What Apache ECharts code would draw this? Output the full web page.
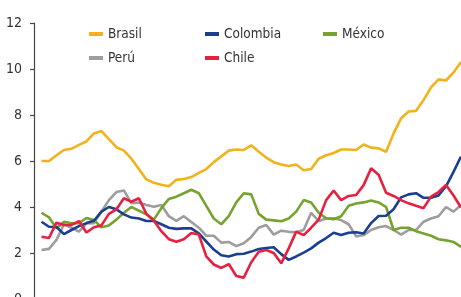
<!DOCTYPE html>
<html>
<head>
<meta charset="utf-8">
<script src="https://cdn.jsdelivr.net/npm/echarts@6/dist/echarts.min.js"></script>
<style>
html, body { margin: 0; padding: 0; background: #fff; }
#chart { width: 461px; height: 297px; }
</style>
</head>
<body>
<div id="chart"></div>
<script>
var yTicks = [0, 2, 4, 6, 8, 10, 12];
// valores mensuales
var brasil = [6.0, 6.0, 6.25, 6.48, 6.53, 6.7, 6.85, 7.2, 7.3, 6.95, 6.6, 6.45, 6.1, 5.65, 5.2, 5.05, 4.97, 4.9, 5.18, 5.22,
	5.3, 5.48, 5.65, 5.95, 6.2, 6.45, 6.5, 6.48, 6.68, 6.4, 6.15, 5.95, 5.85, 5.78, 5.85, 5.6, 5.65, 6.1, 6.25, 6.35,
	6.5, 6.5, 6.48, 6.72, 6.58, 6.55, 6.4, 7.2, 7.85, 8.15, 8.18, 8.65, 9.2, 9.55, 9.5, 9.85, 10.3];
var colombia = [3.36, 3.14, 3.13, 2.82, 3.0, 3.17, 3.3, 3.4, 3.8, 4.0, 3.9, 3.68, 3.54, 3.5, 3.39, 3.39, 3.25, 3.1, 3.05, 3.07,
	3.07, 2.85, 2.5, 2.15, 1.9, 1.85, 1.95, 1.97, 2.06, 2.17, 2.22, 2.25, 1.95, 1.7, 1.85, 2.02, 2.2, 2.45, 2.65, 2.88,
	2.78, 2.88, 2.9, 2.85, 3.3, 3.61, 3.62, 3.9, 4.42, 4.55, 4.6, 4.4, 4.4, 4.5, 4.9, 5.53, 6.19];
var mexico = [3.75, 3.55, 3.07, 3.36, 3.29, 3.3, 3.52, 3.43, 3.12, 3.2, 3.45, 3.75, 4.0, 3.84, 3.68, 3.45, 3.95, 4.35, 4.45, 4.6,
	4.75, 4.6, 4.05, 3.5, 3.25, 3.6, 4.2, 4.6, 4.55, 3.7, 3.45, 3.42, 3.38, 3.5, 3.8, 4.3, 4.2, 3.75, 3.51, 3.47,
	3.6, 4.05, 4.15, 4.2, 4.28, 4.2, 4.0, 3.0, 3.1, 3.1, 2.95, 2.85, 2.75, 2.6, 2.55, 2.48, 2.27];
var peru = [2.13, 2.18, 2.57, 3.25, 3.1, 2.93, 3.29, 3.3, 3.8, 4.3, 4.65, 4.72, 4.16, 4.19, 4.09, 4.01, 4.09, 3.6, 3.4, 3.6,
	3.35, 3.1, 2.75, 2.75, 2.45, 2.48, 2.3, 2.42, 2.7, 3.1, 3.22, 2.8, 2.97, 2.92, 2.9, 3.0, 3.75, 3.38, 3.5, 3.51,
	3.43, 3.25, 2.72, 2.78, 3.0, 3.12, 3.17, 3.0, 2.8, 3.0, 3.0, 3.36, 3.5, 3.6, 4.0, 3.8, 4.09];
var chile = [2.71, 2.65, 3.32, 3.22, 3.22, 3.39, 2.89, 3.12, 3.2, 3.7, 3.9, 4.38, 4.23, 4.38, 3.7, 3.4, 2.95, 2.6, 2.49, 2.6,
	2.87, 2.8, 1.85, 1.5, 1.35, 1.52, 1.0, 0.93, 1.6, 2.05, 2.13, 2.0, 1.55, 2.2, 2.93, 2.78, 3.1, 3.45, 4.3, 4.72,
	4.3, 4.48, 4.52, 4.95, 5.68, 5.4, 4.62, 4.48, 4.3, 4.16, 4.05, 3.95, 4.45, 4.65, 4.96, 4.5, 3.98];

var names = ['Brasil', 'Colombia', 'México', 'Perú', 'Chile'];
var colors = ['#f2b21b', '#1b3f8f', '#77a22e', '#9d9d9d', '#e8203f'];
var values = [brasil, colombia, mexico, peru, chile];

var font = '"Liberation Sans Narrow", "DejaVu Sans Condensed", "Noto Sans", sans-serif';

function toPoints(arr) {
	var out = [];
	for (var i = 0; i < arr.length; i++) {
		out.push([i, arr[i]]);
	}
	return out;
}

// leyenda en dos filas, tres columnas
var legendPos = [[89, 27], [205, 27], [323, 27], [89, 51], [205, 51]];
var legends = [];
for (var k = 0; k < names.length; k++) {
	legends.push({
		left: legendPos[k][0],
		top: legendPos[k][1],
		padding: 0,
		icon: 'rect',
		itemWidth: 14,
		itemHeight: 4,
		textStyle: { fontFamily: font, fontSize: 13.5, color: '#333' },
		data: [names[k]]
	});
}

// orden de dibujo: gris abajo, rojo arriba
var order = [0, 3, 2, 1, 4];
var series = [];
for (var j = 0; j < order.length; j++) {
	var n = order[j];
	series.push({
		name: names[n],
		type: 'line',
		symbol: 'none',
		animation: false,
		itemStyle: { color: colors[n] },
		lineStyle: { color: colors[n], width: 2.6 },
		data: toPoints(values[n])
	});
}

var mycharts = echarts.init(document.getElementById('chart'), null, { renderer: 'canvas' });
mycharts.setOption({
	animation: false,
	legend: legends,
	grid: { left: 34, right: 0, top: 23, bottom: -2, outerBoundsMode: 'none', containLabel: false },
	xAxis: {
		type: 'value',
		min: -1,
		max: 56,
		show: false
	},
	yAxis: {
		type: 'value',
		min: yTicks[0],
		max: yTicks[yTicks.length - 1],
		interval: 2,
		axisLine: { show: true, onZero: false, lineStyle: { color: '#444', width: 1.2 } },
		axisTick: { show: true, length: 4, lineStyle: { color: '#444', width: 1.2 } },
		splitLine: { show: false },
		axisLabel: { margin: 12, fontFamily: font, fontSize: 14, color: '#333' }
	},
	series: series
});
</script>
</body>
</html>
